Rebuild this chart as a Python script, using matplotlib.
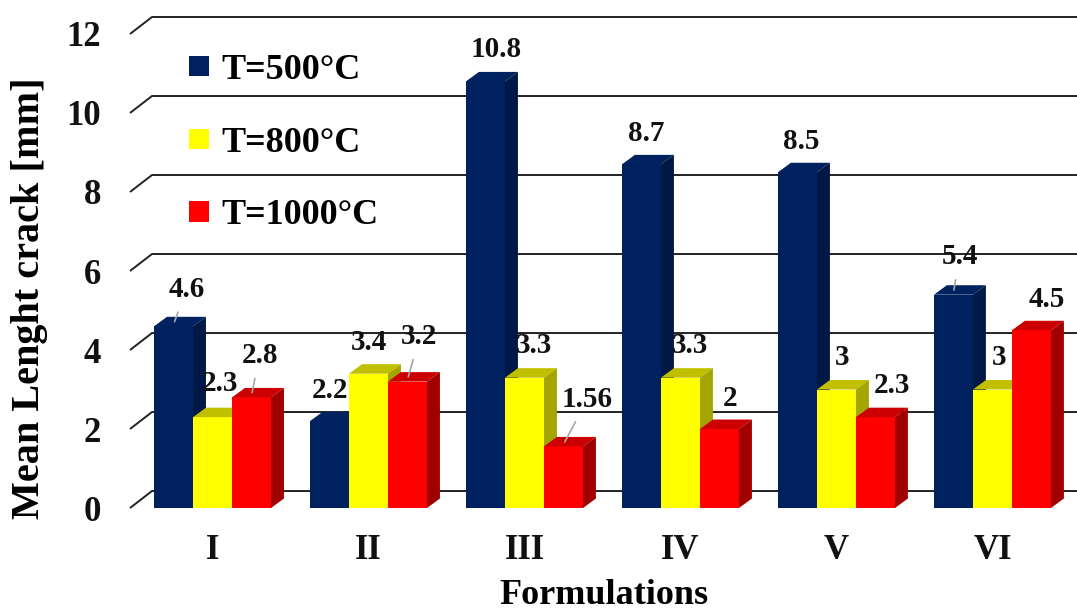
import numpy as np
import matplotlib.pyplot as plt
from matplotlib.patches import Polygon, Patch

plt.rcParams['font.family'] = ['Liberation Serif', 'DejaVu Serif']
plt.rcParams['font.weight'] = 'bold'

formulations = ['I', 'II', 'III', 'IV', 'V', 'VI']
series_names = ['T=500°C', 'T=800°C', 'T=1000°C']
t500 = [4.6, 2.2, 10.8, 8.7, 8.5, 5.4]
t800 = [2.3, 3.4, 3.3, 3.3, 3.0, 3.0]
t1000 = [2.8, 3.2, 1.56, 2.0, 2.3, 4.5]
value_text = [['4.6', '2.2', '10.8', '8.7', '8.5', '5.4'],
              ['2.3', '3.4', '3.3', '3.3', '3', '3'],
              ['2.8', '3.2', '1.56', '2', '2.3', '4.5']]

# face colours: front, top, side
faces = [('#002060', '#00235f', '#001845'),
         ('#ffff00', '#c0c000', '#a5a500'),
         ('#ff0000', '#cc0000', '#a00000')]

# label offsets in pixels from the front top centre of each bar
label_off = [[(13, 35), (0, 29), (11, 30), (5, 29), (4, 29), (6, 36)],
             [(7, 32), (0, 29), (9, 30), (9, 30), (6, 30), (7, 30)],
             [(8, 40), (12, 43), (24, 45), (11, 29), (16, 30), (15, 29)]]
leader = [[True, False, False, False, False, True],
          [False] * 6,
          [True, True, True, False, False, False]]

bar_w = 0.25
bdx, bdy = 0.083, 0.24      # bar depth offsets
fdx, fdy = 0.141, 0.43      # back wall offsets

fig = plt.figure(figsize=(10.77, 6.16), dpi=100)
ax = fig.add_axes([0.1207, 0.1753, 0.8793, 0.808])
x0, x1 = -0.529, 5.542
ax.set_xlim(x0, x1)
ax.set_ylim(0, 12.6)

# gridlines on the back wall with the short diagonal on the side wall
for v in range(0, 13, 2):
    ax.plot([x0, x0 + fdx, x1], [v, v + fdy, v + fdy], color='#222222',
            lw=1.4, zorder=1, clip_on=False, solid_capstyle='butt')

x = np.arange(len(formulations))
for k, vals in enumerate([t500, t800, t1000]):
    front, top, side = faces[k]
    xc = x + (k - 1) * bar_w
    ax.bar(xc, vals, bar_w, color=front, zorder=3 + k * 0.1, linewidth=0)
    for xi, v in zip(xc, vals):
        xl, xr = xi - bar_w / 2, xi + bar_w / 2
        ax.add_patch(Polygon([(xl, v), (xl + bdx, v + bdy), (xr + bdx, v + bdy), (xr, v)],
                             closed=True, fc=top, ec='none', zorder=3 + k * 0.1))
        ax.add_patch(Polygon([(xr, 0), (xr + bdx, bdy), (xr + bdx, v + bdy), (xr, v)],
                             closed=True, fc=side, ec='none', zorder=3 + k * 0.1))

for k, vals in enumerate([t500, t800, t1000]):
    xc = x + (k - 1) * bar_w
    for j, (xi, v) in enumerate(zip(xc, vals)):
        arrow = None
        if leader[k][j]:
            arrow = dict(arrowstyle='-', color='#a6a6a6', lw=1.2,
                         shrinkA=5, shrinkB=2)
        ax.annotate(value_text[k][j], xy=(xi, v + 0.05), xytext=label_off[k][j],
                    textcoords='offset pixels', ha='center', va='center',
                    fontsize=21, fontweight='bold', color='#111111',
                    arrowprops=arrow, zorder=6)

for s in ax.spines.values():
    s.set_visible(False)
ax.set_yticks(range(0, 13, 2))
ax.set_xticks(x)
ax.set_xticklabels(formulations)
ax.tick_params(axis='both', length=0, labelsize=25, colors='#111111')
ax.tick_params(axis='y', pad=21)
ax.tick_params(axis='x', pad=19)

ax.set_xlabel('Formulations', fontsize=26, fontweight='bold', labelpad=8)
ax.set_ylabel('Mean Lenght crack [mm]', fontsize=29, fontweight='bold')
ax.yaxis.set_label_coords(-0.087, 0.422)

handles = [Patch(facecolor=f[0], edgecolor='none') for f in faces]
ax.legend(handles, series_names, loc='upper left', frameon=False,
          bbox_to_anchor=(189 / 1077, 1 - 54 / 616), bbox_transform=fig.transFigure,
          fontsize=26, handlelength=0.55, handleheight=0.5, handletextpad=0.35,
          labelspacing=1.1, borderpad=0, borderaxespad=0)

fig.savefig('out.png', dpi=100)
